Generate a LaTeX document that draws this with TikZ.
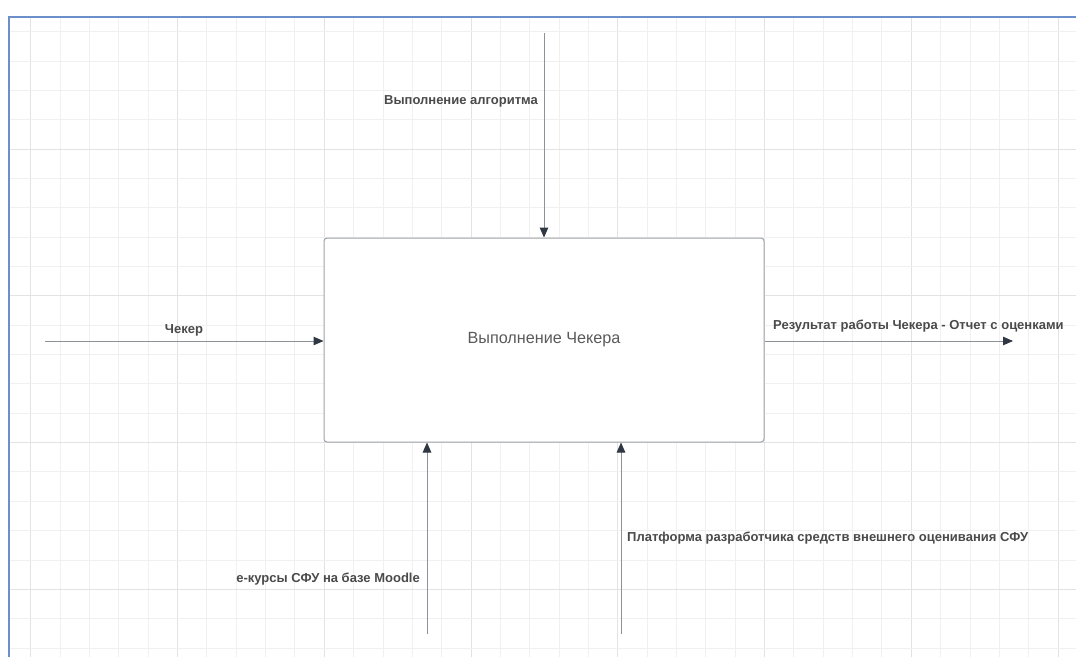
\documentclass[tikz,border=0pt]{standalone}
\usepackage{fontspec}
\setmainfont{Liberation Sans}
\usetikzlibrary{arrows.meta}
\definecolor{gridminor}{HTML}{F0F0F0}
\definecolor{gridmajor}{HTML}{E3E3E3}
\definecolor{frameblue}{HTML}{6B8FCB}
\definecolor{boxedge}{HTML}{9EA3A9}
\definecolor{wire}{HTML}{8C929A}
\definecolor{tipdark}{HTML}{2F3742}
\definecolor{labelgray}{HTML}{4A4A4A}
\definecolor{titlegray}{HTML}{5A5A5A}
\tikzset{
  flow/.style={draw=wire, line width=1pt,
    -{Triangle[length=10pt,width=8.5pt,color=tipdark]}},
  flowlabel/.style={font=\bfseries\fontsize{13}{15}\selectfont, text=labelgray, inner sep=0pt},
  process/.style={draw=boxedge, line width=1pt, rounded corners=3pt, fill=white,
    minimum width=440pt, minimum height=204pt, inner sep=0pt,
    font=\fontsize{16.2}{19}\selectfont, text=titlegray},
}
\begin{document}
\begin{tikzpicture}[x=1pt,y=-1pt]
\useasboundingbox (0,0) rectangle (1076,657);
\fill[white] (0,0) rectangle (1076,657);
% background grid
\begin{scope}
\clip (10,18) rectangle (1076,657);
\foreach \k in {0,...,36} {
  \pgfmathsetmacro{\gx}{30.7+29.35*\k}
  \pgfmathtruncatemacro{\m}{mod(\k,5)}
  \ifnum\m=0
    \draw[gridmajor, line width=0.9pt] (\gx,18) -- (\gx,657);
  \else
    \draw[gridminor, line width=0.8pt] (\gx,18) -- (\gx,657);
  \fi
}
\foreach \k in {0,...,22} {
  \pgfmathsetmacro{\gy}{31.6+29.35*\k}
  \pgfmathtruncatemacro{\m}{mod(\k,5)}
  \ifnum\m=4
    \draw[gridmajor, line width=0.9pt] (10,\gy) -- (1076,\gy);
  \else
    \draw[gridminor, line width=0.8pt] (10,\gy) -- (1076,\gy);
  \fi
}
\end{scope}
% page frame
\draw[frameblue, line width=1.6pt] (9,657) -- (9,17) -- (1076,17);

% activity box
\node[process] (act) at (544,340) {Выполнение Чекера};

% free ends of the arrows
\coordinate (ctrlstart) at (544,33);
\coordinate (instart) at (45,341);
\coordinate (outend) at (1013,341);
\coordinate (mech1start) at (427,634);
\coordinate (mech2start) at (621,634);

\draw[flow] (ctrlstart) -- (ctrlstart |- act.north);
\draw[flow] (instart) -- (act.west |- instart);
\draw[flow] (act.east |- outend) -- (outend);
\draw[flow] (mech1start) -- (mech1start |- act.south);
\draw[flow] (mech2start) -- (mech2start |- act.south);

% labels
\node[flowlabel, anchor=east] (ctrllbl) at (538,101) {Выполнение алгоритма};
\node[flowlabel] (inlbl) at (184,330) {Чекер};
\node[flowlabel, anchor=west] (outlbl) at (773,326) {Результат работы Чекера - Отчет с оценками};
\node[flowlabel, anchor=east] (mech1lbl) at (420,579) {е-курсы СФУ на базе Moodle};
\node[flowlabel, anchor=west] (mech2lbl) at (627,538) {Платформа разработчика средств внешнего оценивания СФУ};
\end{tikzpicture}
\end{document}
